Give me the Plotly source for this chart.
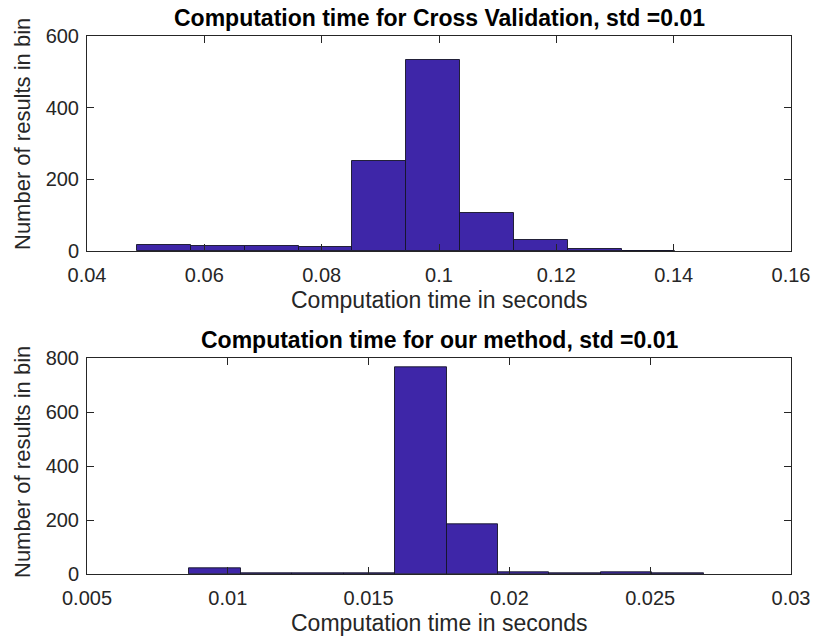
import plotly.graph_objects as go

# ---- data ----
cv_centers = [0.05313, 0.06231, 0.07148, 0.08066, 0.08983, 0.09901, 0.10818, 0.11736, 0.12653, 0.13571]
cv_counts = [18, 14, 14, 11, 252, 534, 107, 31, 5, 1]
cv_binwidth = 0.009175

our_centers = [0.009551, 0.011377, 0.013203, 0.015029, 0.016855, 0.018681, 0.020507, 0.022333, 0.024159, 0.025985]
our_counts = [21, 1, 1, 4, 767, 186, 5, 1, 6, 2]
our_binwidth = 0.001826

cv_xticks = [0.04, 0.06, 0.08, 0.10, 0.12, 0.14, 0.16]
cv_xticklabels = ["0.04", "0.06", "0.08", "0.1", "0.12", "0.14", "0.16"]
cv_yticks = [0, 200, 400, 600]

our_xticks = [0.005, 0.010, 0.015, 0.020, 0.025, 0.030]
our_xticklabels = ["0.005", "0.01", "0.015", "0.02", "0.025", "0.03"]
our_yticks = [0, 200, 400, 600, 800]

title_top = "Computation time for Cross Validation, std =0.01"
title_bottom = "Computation time for our method, std =0.01"
xlabel = "Computation time in seconds"
ylabel = "Number of results in bin"

# ---- styling ----
BAR = "#3e26a8"
AX = "#262626"
FONT = "Liberation Sans"
W, H = 813, 644
ML, MR, MT, MB = 87, 22, 36, 70
PH = H - MT - MB
PW = W - ML - MR


def py(p):
    return (H - MB - p) / PH


def px(p):
    return (p - ML) / PW


fig = go.Figure()
fig.add_trace(go.Bar(x=cv_centers, y=cv_counts, width=[cv_binwidth] * len(cv_centers),
                     marker=dict(color=BAR, line=dict(color="rgba(20,20,40,0.9)", width=1)),
                     xaxis="x", yaxis="y", hoverinfo="skip", showlegend=False))
fig.add_trace(go.Bar(x=our_centers, y=our_counts, width=[our_binwidth] * len(our_centers),
                     marker=dict(color=BAR, line=dict(color="rgba(20,20,40,0.9)", width=1)),
                     xaxis="x2", yaxis="y2", hoverinfo="skip", showlegend=False))

axis_common = dict(showline=True, linecolor=AX, linewidth=1, mirror="ticks", ticks="inside",
                   ticklen=7, tickcolor=AX, tickwidth=1, showgrid=False, zeroline=False,
                   automargin=False,
                   tickfont=dict(family=FONT, size=20, color=AX))
xcommon = dict(axis_common, ticklabelstandoff=6)
ycommon = dict(axis_common, ticklabelstandoff=3)

fig.update_layout(
    width=W, height=H,
    margin=dict(l=ML, r=MR, t=MT, b=MB, autoexpand=False),
    paper_bgcolor="white", plot_bgcolor="white",
    bargap=0,
    xaxis=dict(domain=[0, 1], range=[0.04, 0.16], tickvals=cv_xticks, ticktext=cv_xticklabels,
               anchor="y", **xcommon),
    yaxis=dict(domain=[py(251), 1], range=[0, 600], tickvals=cv_yticks, anchor="x", **ycommon),
    xaxis2=dict(domain=[0, 1], range=[0.005, 0.03], tickvals=our_xticks, ticktext=our_xticklabels,
                anchor="y2", **xcommon),
    yaxis2=dict(domain=[0, py(358.3)], range=[0, 800], tickvals=our_yticks, anchor="x2", **ycommon),
)

ann = []
ann.append(dict(text="<b>%s</b>" % title_top, x=0.5, y=py(18), xref="paper", yref="paper",
                showarrow=False, xanchor="center", yanchor="middle",
                font=dict(family=FONT, size=23, color="black")))
ann.append(dict(text="<b>%s</b>" % title_bottom, x=0.5, y=py(340), xref="paper", yref="paper",
                showarrow=False, xanchor="center", yanchor="middle",
                font=dict(family=FONT, size=23, color="black")))
ann.append(dict(text=xlabel, x=0.5, y=py(300), xref="paper", yref="paper",
                showarrow=False, xanchor="center", yanchor="middle",
                font=dict(family=FONT, size=23, color=AX)))
ann.append(dict(text=xlabel, x=0.5, y=py(623), xref="paper", yref="paper",
                showarrow=False, xanchor="center", yanchor="middle",
                font=dict(family=FONT, size=23, color=AX)))
ann.append(dict(text=ylabel, x=px(22), y=py(134), xref="paper", yref="paper", textangle=-90,
                showarrow=False, xanchor="center", yanchor="middle",
                font=dict(family=FONT, size=22, color=AX)))
ann.append(dict(text=ylabel, x=px(22), y=py(462), xref="paper", yref="paper", textangle=-90,
                showarrow=False, xanchor="center", yanchor="middle",
                font=dict(family=FONT, size=22, color=AX)))
fig.update_layout(annotations=ann)

fig.write_html("out.html", config={"displayModeBar": False},
               post_script="document.body.style.margin='0';")
